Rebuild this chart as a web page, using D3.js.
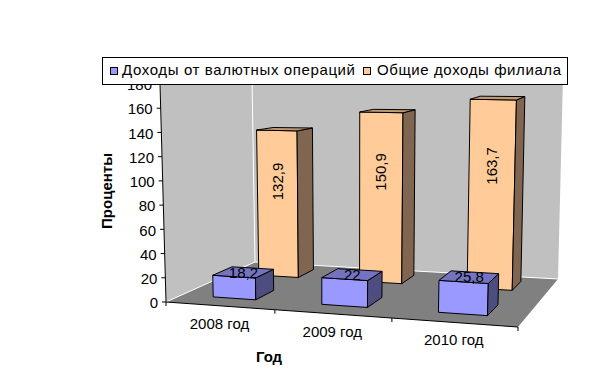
<!DOCTYPE html>
<html>
<head>
<meta charset="utf-8">
<script src="https://cdn.jsdelivr.net/npm/d3@7"></script>
<style>
  body { margin: 0; background: #fff; }
  svg { display: block; }
  text { font-family: "Liberation Sans", Arial, sans-serif; font-size: 15px; fill: #000; }
</style>
</head>
<body>
<div id="chart"></div>
<script>
// Data
const categories = ["2008 год", "2009 год", "2010 год"];
const seriesNames = ["Доходы от валютных операций", "Общие доходы филиала"];
const currencyIncome = [18.2, 22, 25.8];
const branchIncome = [132.9, 150.9, 163.7];
const currencyLabels = ["18,2", "22", "25,8"];
const branchLabels = ["132,9", "150,9", "163,7"];
const valueTicks = [0, 20, 40, 60, 80, 100, 120, 140, 160, 180];

const width = 614, height = 382;

// The perspective box: floor and top plane corners, front-left going round
const floorQuad = [[166, 302], [518, 327], [558, 279], [255, 262]];
const topQuad = [[160, 84], [525, 97], [563, 77], [252, 78]];

const svg = d3.select("#chart").append("svg")
  .attr("width", width)
  .attr("height", height);

// unit square to quad homography
function quadMap(q) {
  const [[x0, y0], [x1, y1], [x2, y2], [x3, y3]] = q;
  const dx1 = x1 - x2, dx2 = x3 - x2, sx = x0 - x1 + x2 - x3;
  const dy1 = y1 - y2, dy2 = y3 - y2, sy = y0 - y1 + y2 - y3;
  const det = dx1 * dy2 - dx2 * dy1;
  const g = (sx * dy2 - dx2 * sy) / det, h = (dx1 * sy - sx * dy1) / det;
  const a = x1 - x0 + g * x1, b = x3 - x0 + h * x3;
  const d = y1 - y0 + g * y1, e = y3 - y0 + h * y3;
  return (u, w) => {
    const k = g * u + h * w + 1;
    return [(a * u + b * w + x0) / k, (d * u + e * w + y0) / k];
  };
}
const onFloor = quadMap(floorQuad);

// how far the full height of the axis reaches at each floor corner
const rise = floorQuad.map((p, i) => [topQuad[i][0] - p[0], topQuad[i][1] - p[1]]);
function riseAt(u, w, k) {
  return (1 - w) * ((1 - u) * rise[0][k] + u * rise[1][k]) + w * ((1 - u) * rise[3][k] + u * rise[2][k]);
}

const y = d3.scaleLinear().domain([0, 180]).range([0, 1]);
const x = d3.scaleBand().domain(categories).range([0, 1]).paddingInner(0.6).paddingOuter(0.3);
const depth = d3.scaleBand().domain(seriesNames).range([0, 1.05]).paddingInner(0.6).paddingOuter(0.3);

// u along the categories, value up the wall, w into the picture
function project(u, value, w) {
  const a = onFloor(u, w), t = y(value);
  return [a[0] + riseAt(u, w, 0) * t, a[1] + riseAt(u, w, 1) * t];
}
const poly = pts => "M" + pts.map(p => p.join(",")).join("L") + "Z";

function face(pts, fill, stroke) {
  svg.append("path").attr("d", poly(pts)).attr("fill", fill)
    .attr("stroke", stroke || "#000").attr("stroke-width", 1);
}

// walls and floor
face([project(0, 0, 0), project(0, 180, 0), project(0, 180, 1), project(0, 0, 1)], "#c0c0c0", "none");
face([project(0, 0, 1), project(0, 180, 1), project(1, 180, 1), project(1, 0, 1)], "#c0c0c0", "none");
face(floorQuad, "#808080", "none");
svg.append("path")
  .attr("d", d3.line()([project(0, 0, 0), project(0, 0, 1), project(1, 0, 1)]))
  .attr("fill", "none").attr("stroke", "#fff");
svg.append("path")
  .attr("d", d3.line()([project(0, 0, 1), project(0, 180, 1)]))
  .attr("fill", "none").attr("stroke", "#fff");

// value axis
svg.append("path")
  .attr("d", d3.line()([project(0, 0, 0), project(0, 180, 0)]))
  .attr("stroke", "#000").attr("fill", "none");
valueTicks.forEach(t => {
  const p = project(0, t, 0);
  svg.append("line").attr("x1", p[0] - 4).attr("x2", p[0]).attr("y1", p[1]).attr("y2", p[1]).attr("stroke", "#000");
  svg.append("text").attr("x", p[0] - 8).attr("y", p[1] + 1).attr("dy", "0.35em")
    .attr("text-anchor", "end").text(t);
});

// category axis
svg.append("path")
  .attr("d", d3.line()([project(0, 0, 0), project(1, 0, 0)]))
  .attr("stroke", "#000").attr("fill", "none");
d3.range(categories.length + 1).forEach(i => {
  const p = project(i / categories.length, 0, 0);
  svg.append("line").attr("x1", p[0]).attr("x2", p[0]).attr("y1", p[1]).attr("y2", p[1] + 4).attr("stroke", "#000");
});
categories.forEach(c => {
  const p = project(x(c) + x.bandwidth() / 2, 0, 0);
  svg.append("text").attr("x", p[0]).attr("y", p[1] + 23).attr("text-anchor", "middle").text(c);
});

// one 3D bar, back faces are never seen from this angle
function bar(cat, name, value, colors) {
  const u0 = x(cat), u1 = u0 + x.bandwidth();
  const w0 = depth(name), w1 = w0 + depth.bandwidth();
  face([project(u0, 0, w0), project(u1, 0, w0), project(u1, value, w0), project(u0, value, w0)], colors[0]);
  face([project(u1, 0, w0), project(u1, 0, w1), project(u1, value, w1), project(u1, value, w0)], colors[1]);
  face([project(u0, value, w0), project(u1, value, w0), project(u1, value, w1), project(u0, value, w1)], colors[2]);
}

const blue = ["#9999ff", "#4d4d80", "#7373bf"];
const orange = ["#ffcc99", "#806650", "#bf9973"];

categories.forEach((c, i) => bar(c, seriesNames[1], branchIncome[i], orange));
categories.forEach((c, i) => bar(c, seriesNames[0], currencyIncome[i], blue));

// data labels
categories.forEach((c, i) => {
  const mid = x(c) + x.bandwidth() / 2;
  const p = project(mid, branchIncome[i] * 0.65, depth(seriesNames[1]));
  svg.append("text")
    .attr("transform", `translate(${p[0]},${p[1]}) rotate(-90)`)
    .attr("text-anchor", "middle").attr("dy", "0.35em")
    .text(branchLabels[i]);
  const q = project(mid, currencyIncome[i], depth(seriesNames[0]) + depth.bandwidth() / 2);
  svg.append("text").attr("x", q[0]).attr("y", q[1]).attr("dy", "0.35em")
    .attr("text-anchor", "middle").text(currencyLabels[i]);
});

// axis titles
svg.append("text")
  .attr("transform", "translate(107,191) rotate(-90)")
  .attr("text-anchor", "middle").attr("dy", "0.35em")
  .style("font-weight", "bold").text("Проценты");
svg.append("text")
  .attr("x", 269).attr("y", 362).attr("text-anchor", "middle")
  .style("font-weight", "bold").text("Год");

// legend goes over the top of the plot
svg.append("rect").attr("x", 102.5).attr("y", 57.5).attr("width", 465).attr("height", 27)
  .attr("fill", "#fff").attr("stroke", "#000");
const legendItems = [
  { swatch: 110, text: 122, len: 233, fill: blue[0] },
  { swatch: 363, text: 377, len: 184, fill: orange[0] }
];
legendItems.forEach((d, i) => {
  svg.append("rect").attr("x", d.swatch + 0.5).attr("y", 67.5).attr("width", 7).attr("height", 7)
    .attr("fill", d.fill).attr("stroke", "#000");
  svg.append("text").attr("x", d.text).attr("y", 75)
    .attr("textLength", d.len).attr("lengthAdjust", "spacing").text(seriesNames[i]);
});
</script>
</body>
</html>
